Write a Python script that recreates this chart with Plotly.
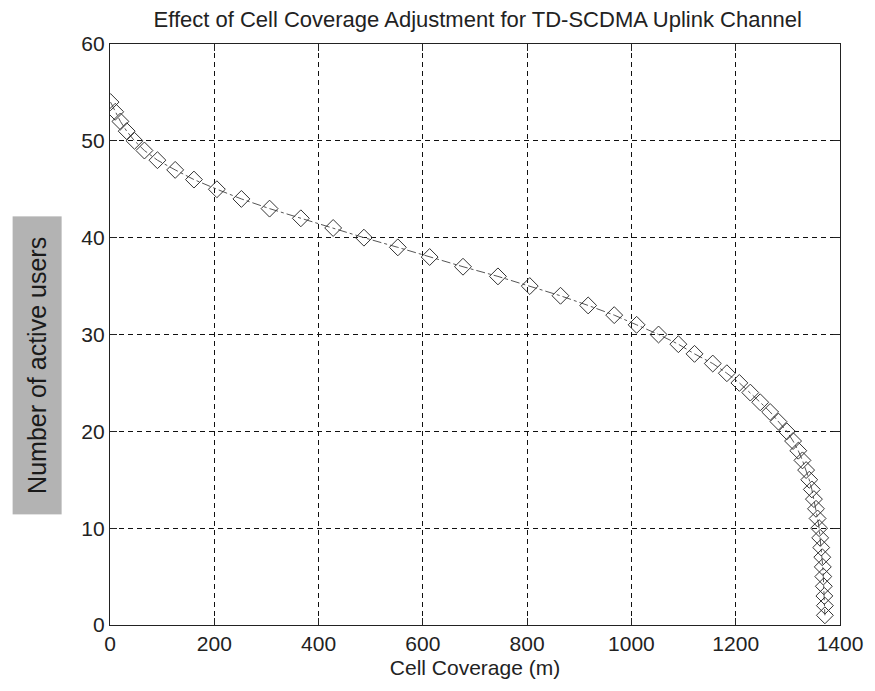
import plotly.graph_objects as go

# Data
active_users = [54, 53, 52, 51, 50, 49, 48, 47, 46, 45, 44, 43, 42, 41, 40, 39, 38, 37,
                36, 35, 34, 33, 32, 31, 30, 29, 28, 27, 26, 25, 24, 23, 22, 21, 20, 19,
                18, 17, 16, 15, 14, 13, 12, 11, 10, 9, 8, 7, 6, 5, 4, 3, 2, 1]
cell_coverage = [1, 10, 20, 32, 47, 66, 91, 125, 161, 205, 252, 306, 366, 428, 487, 552, 613, 677,
                 744, 805, 864, 917, 967, 1010, 1052, 1090, 1121, 1156, 1183, 1207, 1228, 1247, 1266, 1282, 1298, 1310,
                 1320, 1328, 1335, 1341, 1346, 1350, 1354, 1357, 1360, 1362, 1364, 1366, 1367, 1368, 1369, 1370, 1371, 1371]
x_ticks = [0, 200, 400, 600, 800, 1000, 1200, 1400]
y_ticks = [0, 10, 20, 30, 40, 50, 60]

FONT = "Liberation Sans, Arial, sans-serif"

fig = go.Figure()
fig.add_trace(go.Scatter(
    x=cell_coverage, y=active_users, mode="lines+markers",
    line=dict(color="#555555", width=1, dash="dashdot"),
    marker=dict(symbol="diamond-open", size=13, color="#333333", line=dict(width=1, color="#333333")),
    showlegend=False,
))

axis_common = dict(
    showline=True, linecolor="#222222", linewidth=1.2, mirror="ticks",
    ticks="inside", ticklen=7, tickcolor="#222222",
    showgrid=True, gridcolor="#111111", gridwidth=1, griddash="5px,4px",
    zeroline=False,
    tickfont=dict(family=FONT, size=21, color="#222222"),
)

fig.update_layout(
    width=875, height=691,
    margin=dict(l=110, r=26, t=44, b=66),
    paper_bgcolor="white", plot_bgcolor="white",
    title=dict(text="Effect of Cell Coverage Adjustment for TD-SCDMA Uplink Channel",
               x=0.546, xanchor="center", y=0.972, yanchor="middle",
               font=dict(family=FONT, size=22, color="#222222")),
    xaxis=dict(range=[0, 1400], tickvals=x_ticks, **axis_common,
               title=dict(text="Cell Coverage (m)", standoff=6,
                          font=dict(family=FONT, size=21, color="#222222"))),
    yaxis=dict(range=[0, 60], tickvals=y_ticks, **axis_common),
)

fig.add_annotation(
    text="Number of active users", textangle=-90,
    xref="paper", yref="paper", x=-0.1, y=0.446,
    xanchor="center", yanchor="middle", showarrow=False,
    width=295, height=46, bgcolor="#b3b3b3",
    font=dict(family=FONT, size=25, color="#1a1a1a"),
)

fig.write_html("out.html")
